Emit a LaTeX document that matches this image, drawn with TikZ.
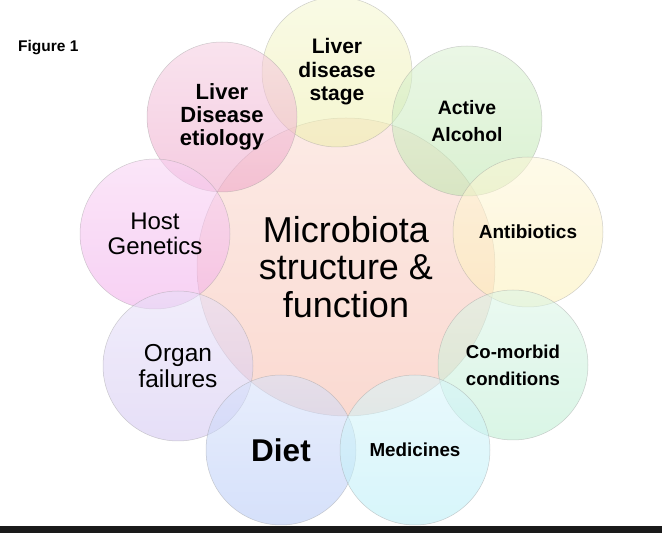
\documentclass[tikz,border=0pt]{standalone}
\usepackage{fontspec}
\setmainfont{Liberation Sans}
\definecolor{ctrfill}{RGB}{247,188,172}
\definecolor{stagefill}{RGB}{238,240,170}
\definecolor{etiofill}{RGB}{238,163,200}
\definecolor{alcofill}{RGB}{188,230,172}
\definecolor{hostfill}{RGB}{242,172,235}
\definecolor{antifill}{RGB}{253,240,183}
\definecolor{organfill}{RGB}{210,197,242}
\definecolor{comorbfill}{RGB}{188,238,210}
\definecolor{dietfill}{RGB}{180,200,247}
\definecolor{medicfill}{RGB}{183,238,247}
\definecolor{barblack}{RGB}{26,26,26}
\newcommand{\lblfont}[2]{\fontsize{#1}{#2}\selectfont}
\tikzset{
  bubble/.style={circle, draw=black!40, line width=0.5pt, fill opacity=0.55,
    draw opacity=0.45, text opacity=1, minimum size=150pt, inner sep=0pt,
    align=center, text=black, top color=#1!55, bottom color=#1},
  bubble/.default=white
}
\begin{document}
\begin{tikzpicture}[x=1pt,y=1pt]
  \useasboundingbox (0,0) rectangle (662,533);
  \fill[white] (0,0) rectangle (662,533);
  % centre
  \node[bubble=ctrfill, minimum size=298pt, font=\lblfont{36}{37.5}] (ctr) at (346,266)
    {Microbiota\\structure \&\\function};
  % ring of factors
  \node[bubble=stagefill, font=\bfseries\lblfont{21}{23.5}] (stage) at (337,461)
    {Liver\\disease\\stage};
  \node[bubble=etiofill, font=\bfseries\lblfont{22}{23}] (etio) at (222,416)
    {Liver\\Disease\\etiology};
  \node[bubble=alcofill, font=\bfseries\lblfont{19.4}{27}] (alco) at (467,412)
    {Active\\Alcohol};
  \node[bubble=hostfill, font=\lblfont{24}{25}] (host) at (155,299)
    {Host\\Genetics};
  \node[bubble=antifill, font=\bfseries\lblfont{19}{23}] (anti) at (528,301)
    {Antibiotics};
  \node[bubble=organfill, font=\lblfont{24.5}{26}] (organ) at (178,167)
    {Organ\\failures};
  \node[bubble=comorbfill, font=\bfseries\lblfont{18.6}{27}] (comorb) at (513,168)
    {Co-morbid\\conditions};
  \node[bubble=dietfill, font=\bfseries\lblfont{31.5}{34}] (diet) at (281,83)
    {Diet};
  \node[bubble=medicfill, font=\bfseries\lblfont{18.8}{22}] (medic) at (415,83)
    {Medicines};
  % caption and bottom bar
  \node[anchor=west, inner sep=0pt, font=\bfseries\lblfont{15.5}{18}] (fig) at (18,485) {Figure 1};
  \fill[barblack] (0,0) rectangle (662,6.5);
\end{tikzpicture}
\end{document}
